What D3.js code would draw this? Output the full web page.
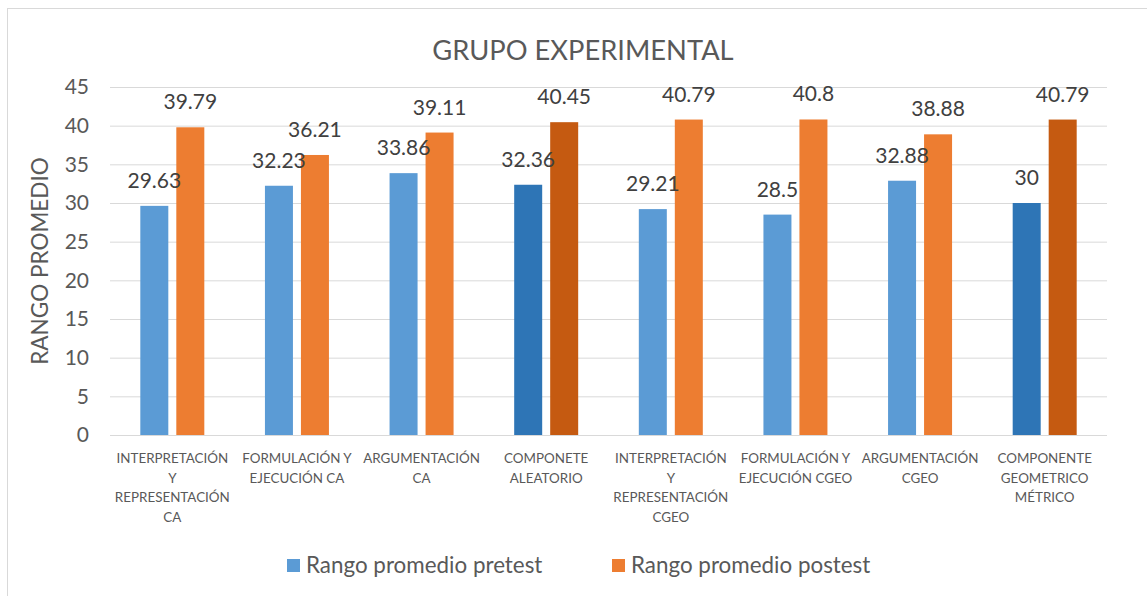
<!DOCTYPE html>
<html>
<head>
<meta charset="utf-8">
<script src="https://cdn.jsdelivr.net/npm/d3@7"></script>
<style>
  html, body { margin: 0; padding: 0; background: #fff; }
  svg { display: block; font-family: Lato, "Open Sans", sans-serif; }
</style>
</head>
<body>
<svg id="chart" width="1147" height="596"></svg>
<script>
// Category labels (already split into lines)
const categories = [
  ["INTERPRETACIÓN", "Y", "REPRESENTACIÓN", "CA"],
  ["FORMULACIÓN Y", "EJECUCIÓN CA"],
  ["ARGUMENTACIÓN", "CA"],
  ["COMPONETE", "ALEATORIO"],
  ["INTERPRETACIÓN", "Y", "REPRESENTACIÓN", "CGEO"],
  ["FORMULACIÓN Y", "EJECUCIÓN CGEO"],
  ["ARGUMENTACIÓN", "CGEO"],
  ["COMPONENTE", "GEOMETRICO", "MÉTRICO"]
];
const seriesNames = ["Rango promedio pretest", "Rango promedio postest"];
const pretest = [29.63, 32.23, 33.86, 32.36, 29.21, 28.5, 32.88, 30];
const postest = [39.79, 36.21, 39.11, 40.45, 40.79, 40.8, 38.88, 40.79];
const valueLabels = [
  ["29.63", "32.23", "33.86", "32.36", "29.21", "28.5", "32.88", "30"],
  ["39.79", "36.21", "39.11", "40.45", "40.79", "40.8", "38.88", "40.79"]
];
const yTicks = [0, 5, 10, 15, 20, 25, 30, 35, 40, 45];
// Component-summary categories use darker shades
const summaryIdx = [3, 7];
const colors = ["#5B9BD5", "#ED7D31"];
const darkColors = ["#2E75B6", "#C55A11"];

const svg = d3.select("#chart");
const W = 1147, H = 596;

// chart frame
svg.append("rect")
  .attr("x", 7.5).attr("y", 8.5)
  .attr("width", W).attr("height", H)
  .attr("fill", "#fff").attr("stroke", "#D9D9D9").attr("stroke-width", 1);

const plot = { left: 110, right: 1107, top: 87, bottom: 435 };

const x0 = d3.scaleBand()
  .domain(d3.range(categories.length))
  .range([plot.left, plot.right])
  .padding(0);

const barW = 28, barGap = 8;
const x1 = d3.scaleBand()
  .domain([0, 1])
  .range([(x0.bandwidth() - (2 * barW + barGap)) / 2, (x0.bandwidth() + (2 * barW + barGap)) / 2])
  .paddingInner(barGap / (barW + barGap));

const y = d3.scaleLinear().domain([0, 45]).range([plot.bottom, plot.top]);

// gridlines
const grid = svg.append("g")
  .attr("transform", `translate(${plot.left},0)`)
  .call(d3.axisLeft(y).tickValues(yTicks).tickSize(-(plot.right - plot.left)).tickFormat(""));
grid.select(".domain").remove();
grid.selectAll("line").attr("stroke", "#D9D9D9").attr("stroke-width", 1);

// y tick labels
const yAxis = svg.append("g")
  .attr("transform", `translate(${plot.left},0)`)
  .call(d3.axisLeft(y).tickValues(yTicks).tickSize(0).tickPadding(21));
yAxis.select(".domain").remove();
yAxis.selectAll("text")
  .attr("font-family", "Lato, sans-serif")
  .attr("font-size", 21)
  .attr("fill", "#595959");

// bars
const series = [pretest, postest];
const groups = svg.append("g").selectAll("g")
  .data(categories.map((c, i) => i))
  .join("g")
  .attr("transform", i => `translate(${x0(i)},0)`);

groups.selectAll("rect")
  .data(i => series.map((s, k) => ({ i, k, v: s[i] })))
  .join("rect")
  .attr("x", d => x1(d.k))
  .attr("width", x1.bandwidth())
  .attr("y", d => y(d.v))
  .attr("height", d => y(0) - y(d.v))
  .attr("fill", d => (summaryIdx.includes(d.i) ? darkColors : colors)[d.k]);

groups.selectAll("text.val")
  .data(i => series.map((s, k) => ({ i, k, v: s[i] })))
  .join("text")
  .attr("class", "val")
  .attr("x", d => x1(d.k) + x1.bandwidth() / 2)
  .attr("y", d => y(d.v) - 18)
  .attr("text-anchor", "middle")
  .attr("font-size", 21)
  .attr("fill", "#404040")
  .text(d => valueLabels[d.k][d.i]);

// baseline
svg.append("line")
  .attr("x1", plot.left).attr("x2", plot.right)
  .attr("y1", y(0) + 0.5).attr("y2", y(0) + 0.5)
  .attr("stroke", "#D9D9D9").attr("stroke-width", 1);

// x labels
const xl = svg.append("g");
categories.forEach((lines, i) => {
  const t = xl.append("text")
    .attr("x", x0(i) + x0.bandwidth() / 2)
    .attr("y", 463)
    .attr("text-anchor", "middle")
    .attr("font-size", 13.4)
    .attr("fill", "#595959");
  lines.forEach((ln, j) => {
    t.append("tspan")
      .attr("x", x0(i) + x0.bandwidth() / 2)
      .attr("dy", j === 0 ? 0 : 19.5)
      .text(ln);
  });
});

// title
svg.append("text")
  .attr("x", 583).attr("y", 60)
  .attr("text-anchor", "middle")
  .attr("font-size", 27.3)
  .attr("fill", "#595959")
  .text("GRUPO EXPERIMENTAL");

// y axis title
svg.append("text")
  .attr("transform", `translate(48,${(plot.top + plot.bottom) / 2}) rotate(-90)`)
  .attr("text-anchor", "middle")
  .attr("font-size", 22.5)
  .attr("fill", "#595959")
  .text("RANGO PROMEDIO");

// legend
const legendX = [287, 612];
seriesNames.forEach((name, k) => {
  const g = svg.append("g").attr("transform", `translate(${legendX[k]},559)`);
  g.append("rect").attr("width", 13).attr("height", 13).attr("fill", colors[k]);
  g.append("text")
    .attr("x", 19).attr("y", 14)
    .attr("font-size", 22.4)
    .attr("fill", "#595959")
    .text(name);
});
</script>
</body>
</html>
